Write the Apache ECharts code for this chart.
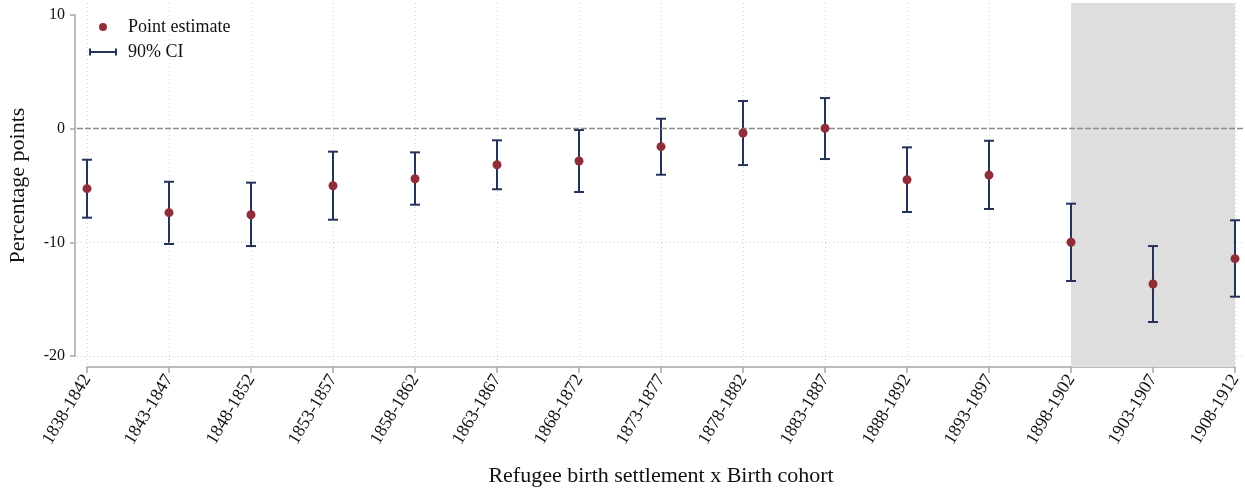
<!DOCTYPE html>
<html>
<head>
<meta charset="utf-8">
<script src="https://cdn.jsdelivr.net/npm/echarts@6/dist/echarts.min.js"></script>
<style>
  html, body { margin: 0; padding: 0; background: #ffffff; }
  #chart { width: 1245px; height: 495px; }
</style>
</head>
<body>
<div id="chart"></div>
<script>
// Birth cohorts on the x axis
const cohorts = [
  '1838-1842', '1843-1847', '1848-1852', '1853-1857', '1858-1862',
  '1863-1867', '1868-1872', '1873-1877', '1878-1882', '1883-1887',
  '1888-1892', '1893-1897', '1898-1902', '1903-1907', '1908-1912'
];
// Point estimates (percentage points)
const estimates = [
  -5.28, -7.39, -7.57, -5.02, -4.40,
  -3.17, -2.84, -1.58, -0.38, 0.04,
  -4.49, -4.08, -10.00, -13.67, -11.44
];
// 90% confidence interval bounds
const ciLow = [
  -7.83, -10.15, -10.33, -8.01, -6.69,
  -5.33, -5.57, -4.05, -3.20, -2.67,
  -7.33, -7.07, -13.41, -17.02, -14.79
];
const ciHigh = [
  -2.73, -4.67, -4.75, -2.02, -2.08,
  -1.02, -0.11, 0.88, 2.44, 2.70,
  -1.64, -1.06, -6.60, -10.33, -8.06
];
// Y axis tick values and horizontal reference lines
const yTickMin = -20;
const yTickMax = 10;
const yTickStep = 10;
const gridLineValues = [-20, -10];
const referenceValue = 0;
// Cohorts covered by the shaded band
const shadedFrom = '1898-1902';
const shadedTo = '1908-1912';

const FONT = "'Liberation Serif', 'Times New Roman', serif";
const NAVY = '#25335a';
const CRANBERRY = '#8f2d38';
const AXIS_GREY = '#a6a6a6';

// Vertical extent of the plot region, in data units
const plotMin = -20.98;
const plotMax = 11.07;

const chart = echarts.init(document.getElementById('chart'), null, { renderer: 'canvas' });

const ciData = cohorts.map((c, i) => [i, ciLow[i], ciHigh[i]]);
const pointData = cohorts.map((c, i) => [i, estimates[i]]);

function renderCI(params, api) {
  const lo = api.coord([api.value(0), api.value(1)]);
  const hi = api.coord([api.value(0), api.value(2)]);
  const half = 5;
  const style = { stroke: NAVY, lineWidth: 2, fill: null };
  return {
    type: 'group',
    children: [
      { type: 'line', shape: { x1: lo[0], y1: lo[1], x2: hi[0], y2: hi[1] }, style },
      { type: 'line', shape: { x1: lo[0] - half, y1: lo[1], x2: lo[0] + half, y2: lo[1] }, style },
      { type: 'line', shape: { x1: hi[0] - half, y1: hi[1], x2: hi[0] + half, y2: hi[1] }, style }
    ]
  };
}

const option = {
  backgroundColor: '#ffffff',
  animation: false,
  textStyle: { fontFamily: FONT },
  grid: [
    // 0: data grid, spanning first to last cohort
    { left: 87, right: 10, top: 3, bottom: 128, outerBoundsMode: 'none' },
    // 1: full-width plot region for horizontal reference lines
    { left: 77, right: 0, top: 3, bottom: 128, outerBoundsMode: 'none' },
    // 2: y axis, drawn from -20 to 10 only
    { left: 75, width: 1, top: 15, bottom: 139, outerBoundsMode: 'none' }
  ],
  legend: [
    {
      data: ['Point estimate'],
      left: 99, top: 17, padding: 0,
      itemWidth: 28, itemHeight: 8,
      icon: 'circle',
      textStyle: { fontFamily: FONT, fontSize: 18, color: '#111', lineHeight: 20, padding: [0, 0, 0, 6] }
    },
    {
      data: ['90% CI'],
      left: 89, top: 42, padding: 0,
      itemWidth: 28, itemHeight: 7,
      icon: 'path://M0,0 H2 V2.5 H26 V0 H28 V7 H26 V4.5 H2 V7 H0 Z',
      textStyle: { fontFamily: FONT, fontSize: 18, color: '#111', lineHeight: 20, padding: [0, 0, 0, 6] }
    }
  ],
  xAxis: [
    {
      gridIndex: 0,
      type: 'category',
      data: cohorts,
      boundaryGap: false,
      name: 'Refugee birth settlement x Birth cohort',
      nameLocation: 'middle',
      nameGap: 98,
      nameTextStyle: { fontFamily: FONT, fontSize: 22, color: '#111' },
      axisLine: { show: true, onZero: false, lineStyle: { color: AXIS_GREY, width: 1.5 } },
      axisTick: { show: true, length: 6, lineStyle: { color: AXIS_GREY, width: 1.5 } },
      axisLabel: { interval: 0, rotate: 59, margin: 9, fontFamily: FONT, fontSize: 18, color: '#111' },
      splitLine: { show: true, lineStyle: { color: '#d6d6d6', type: [1, 3], width: 1 } }
    },
    { gridIndex: 1, type: 'value', min: 0, max: 1, show: false },
    { gridIndex: 2, type: 'value', min: 0, max: 1, show: false }
  ],
  yAxis: [
    { gridIndex: 0, type: 'value', min: plotMin, max: plotMax, show: false, splitLine: { show: false } },
    { gridIndex: 1, type: 'value', min: plotMin, max: plotMax, show: false, splitLine: { show: false } },
    {
      gridIndex: 2,
      type: 'value',
      min: yTickMin, max: yTickMax, interval: yTickStep,
      name: 'Percentage points',
      nameLocation: 'middle',
      nameGap: 46,
      nameTextStyle: { fontFamily: FONT, fontSize: 22, color: '#111' },
      axisLine: { show: true, lineStyle: { color: AXIS_GREY, width: 1.5 } },
      axisTick: { show: true, length: 5, lineStyle: { color: AXIS_GREY, width: 1.5 } },
      axisLabel: { margin: 10, fontFamily: FONT, fontSize: 16, color: '#111' },
      splitLine: { show: false }
    }
  ],
  series: [
    {
      // horizontal grid lines across the plot region
      type: 'line',
      xAxisIndex: 1, yAxisIndex: 1,
      data: [],
      silent: true,
      z: 1,
      markLine: {
        silent: true,
        symbol: 'none',
        label: { show: false },
        lineStyle: { color: '#c8c8c8', type: [1, 3], width: 1 },
        data: gridLineValues.map(v => ({ yAxis: v }))
      }
    },
    {
      // shaded band over the last cohorts
      type: 'line',
      xAxisIndex: 0, yAxisIndex: 0,
      data: [],
      silent: true,
      z: 2,
      markArea: {
        silent: true,
        itemStyle: { color: '#dedede' },
        data: [[{ xAxis: shadedFrom, yAxis: plotMin }, { xAxis: shadedTo, yAxis: plotMax }]]
      }
    },
    {
      // zero reference line
      type: 'line',
      xAxisIndex: 1, yAxisIndex: 1,
      data: [],
      silent: true,
      z: 3,
      markLine: {
        silent: true,
        symbol: 'none',
        label: { show: false },
        lineStyle: { color: '#8c8c8c', type: [6, 2], width: 1.3 },
        data: [{ yAxis: referenceValue }]
      }
    },
    {
      name: '90% CI',
      type: 'custom',
      xAxisIndex: 0, yAxisIndex: 0,
      data: ciData,
      renderItem: renderCI,
      itemStyle: { color: NAVY },
      encode: { x: 0, y: [1, 2] },
      clip: false,
      z: 4
    },
    {
      name: 'Point estimate',
      type: 'scatter',
      xAxisIndex: 0, yAxisIndex: 0,
      data: pointData,
      symbol: 'circle',
      symbolSize: 9,
      itemStyle: { color: CRANBERRY, opacity: 1 },
      clip: false,
      z: 5
    }
  ]
};

chart.setOption(option);
</script>
</body>
</html>
